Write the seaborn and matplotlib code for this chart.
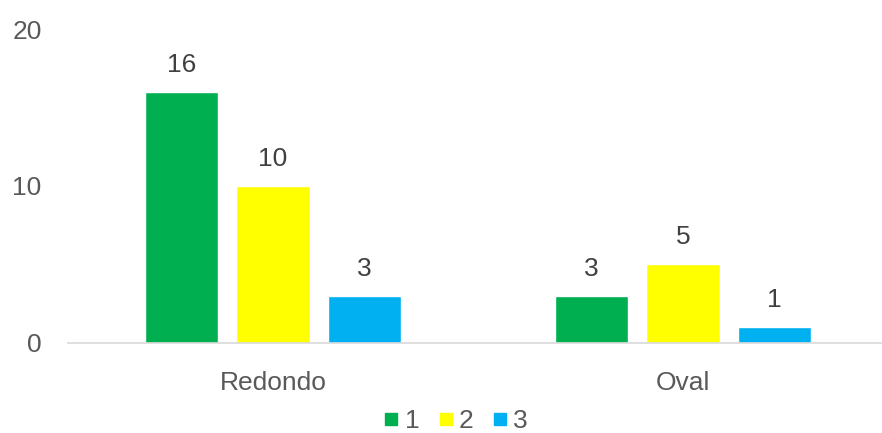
import matplotlib
matplotlib.use("Agg")
import matplotlib.pyplot as plt
import seaborn as sns
import pandas as pd

categories = ["Redondo", "Oval"]
series = ["1", "2", "3"]
values_1 = [16, 3]
values_2 = [10, 5]
values_3 = [3, 1]
colors = ["#00B050", "#FFFF00", "#00B0F0"]
yticks = [0, 10, 20]

df = pd.DataFrame({
    "forma": categories * 3,
    "grupo": [s for s in series for _ in categories],
    "n": values_1 + values_2 + values_3,
})

sns.set_theme(style="white")
plt.rcParams["font.family"] = ["Liberation Sans", "DejaVu Sans"]

fig = plt.figure(figsize=(8.82, 4.33), dpi=100)
ax = fig.add_axes([0.077, 0.208, 0.930, 0.725])

sns.barplot(data=df, x="forma", y="n", hue="grupo", palette=colors,
            width=0.67, gap=0.2, ax=ax, legend=False, saturation=1)

for cont in ax.containers:
    ax.bar_label(cont, padding=11, fontsize=19, color="#404040")

ax.set_ylim(0, 20)
ax.set_yticks(yticks)
ax.set_xlabel("")
ax.set_ylabel("")
for s in ["top", "right", "left"]:
    ax.spines[s].set_visible(False)
ax.spines["bottom"].set_color("#d9d9d9")
ax.spines["bottom"].set_linewidth(1.2)
ax.tick_params(axis="y", length=0, pad=19, labelsize=19, labelcolor="#595959")
ax.tick_params(axis="x", length=0, pad=20, labelsize=19, labelcolor="#595959")

handles = [plt.Line2D([], [], marker="s", linestyle="", markersize=9,
                      markerfacecolor=c, markeredgecolor=c) for c in colors]
fig.legend(handles, series, loc="center", ncol=3, frameon=False,
           bbox_to_anchor=(0.515, 0.028), fontsize=19, handletextpad=0.1,
           handlelength=0.8, columnspacing=0.6, labelcolor="#595959",
           borderpad=0)

fig.savefig("out.png", dpi=100)
